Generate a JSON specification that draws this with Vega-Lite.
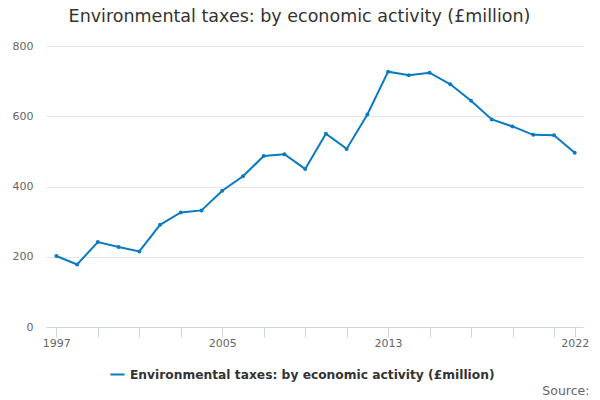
{
  "$schema": "https://vega.github.io/schema/vega-lite/v6.json",
  "width": 537,
  "height": 281,
  "autosize": "none",
  "padding": {"left": 46, "top": 46, "right": 17, "bottom": 73},
  "background": "white",
  "config": {
    "font": "DejaVu Sans",
    "view": {"stroke": null}
  },
  "title": {
    "text": "Environmental taxes: by economic activity (£million)",
    "anchor": "middle",
    "frame": "group",
    "dx": -15,
    "offset": 15,
    "fontSize": 17.5,
    "fontWeight": "normal",
    "color": "#333333",
    "font": "DejaVu Sans"
  },
  "data": {
    "values": [
      {"year": 1997, "value": 202, "series": "Environmental taxes: by economic activity (£million)"},
      {"year": 1998, "value": 178, "series": "Environmental taxes: by economic activity (£million)"},
      {"year": 1999, "value": 242, "series": "Environmental taxes: by economic activity (£million)"},
      {"year": 2000, "value": 228, "series": "Environmental taxes: by economic activity (£million)"},
      {"year": 2001, "value": 215, "series": "Environmental taxes: by economic activity (£million)"},
      {"year": 2002, "value": 291, "series": "Environmental taxes: by economic activity (£million)"},
      {"year": 2003, "value": 326, "series": "Environmental taxes: by economic activity (£million)"},
      {"year": 2004, "value": 332, "series": "Environmental taxes: by economic activity (£million)"},
      {"year": 2005, "value": 388, "series": "Environmental taxes: by economic activity (£million)"},
      {"year": 2006, "value": 429, "series": "Environmental taxes: by economic activity (£million)"},
      {"year": 2007, "value": 487, "series": "Environmental taxes: by economic activity (£million)"},
      {"year": 2008, "value": 492, "series": "Environmental taxes: by economic activity (£million)"},
      {"year": 2009, "value": 450, "series": "Environmental taxes: by economic activity (£million)"},
      {"year": 2010, "value": 550, "series": "Environmental taxes: by economic activity (£million)"},
      {"year": 2011, "value": 507, "series": "Environmental taxes: by economic activity (£million)"},
      {"year": 2012, "value": 605, "series": "Environmental taxes: by economic activity (£million)"},
      {"year": 2013, "value": 727, "series": "Environmental taxes: by economic activity (£million)"},
      {"year": 2014, "value": 717, "series": "Environmental taxes: by economic activity (£million)"},
      {"year": 2015, "value": 724, "series": "Environmental taxes: by economic activity (£million)"},
      {"year": 2016, "value": 691, "series": "Environmental taxes: by economic activity (£million)"},
      {"year": 2017, "value": 644, "series": "Environmental taxes: by economic activity (£million)"},
      {"year": 2018, "value": 591, "series": "Environmental taxes: by economic activity (£million)"},
      {"year": 2019, "value": 571, "series": "Environmental taxes: by economic activity (£million)"},
      {"year": 2020, "value": 547, "series": "Environmental taxes: by economic activity (£million)"},
      {"year": 2021, "value": 546, "series": "Environmental taxes: by economic activity (£million)"},
      {"year": 2022, "value": 496, "series": "Environmental taxes: by economic activity (£million)"}
    ]
  },
  "mark": {
    "type": "line",
    "strokeWidth": 2,
    "point": {"filled": true, "size": 16}
  },
  "encoding": {
    "x": {
      "field": "year",
      "type": "quantitative",
      "scale": {"domain": [1996.5, 2022.4], "nice": false, "zero": false},
      "axis": {
        "values": [1997, 1999, 2001, 2003, 2005, 2007, 2009, 2011, 2013, 2015, 2017, 2019, 2021, 2022],
        "labelExpr": "indexof([1997, 2005, 2013, 2022], datum.value) >= 0 ? format(datum.value, 'd') : ''",
        "grid": false,
        "domainColor": "#ccd6eb",
        "tickColor": "#ccd6eb",
        "tickSize": 10,
        "labelFontSize": 11,
        "labelColor": "#666666",
        "labelPadding": 0,
        "labelFlush": false,
        "labelOverlap": false,
        "title": "Source:",
        "titleAnchor": "end",
        "titleAlign": "right",
        "titleBaseline": "middle",
        "titleX": 543,
        "titleY": 63,
        "titleFontSize": 12.5,
        "titleFontWeight": "normal",
        "titleColor": "#666666"
      }
    },
    "y": {
      "field": "value",
      "type": "quantitative",
      "scale": {"domain": [0, 800], "nice": false},
      "axis": {
        "values": [0, 200, 400, 600, 800],
        "domain": false,
        "ticks": false,
        "gridColor": "#e6e6e6",
        "labelFontSize": 11,
        "labelColor": "#666666",
        "labelPadding": 13,
        "title": null
      }
    },
    "color": {
      "field": "series",
      "type": "nominal",
      "scale": {"range": ["#0a7bc1"]},
      "legend": {
        "orient": "none",
        "legendX": 63,
        "legendY": 320,
        "title": null,
        "symbolType": "stroke",
        "symbolStrokeWidth": 2,
        "symbolSize": 200,
        "labelFontSize": 12.25,
        "labelFontWeight": "bold",
        "labelColor": "#333333",
        "labelLimit": 0
      }
    }
  }
}
